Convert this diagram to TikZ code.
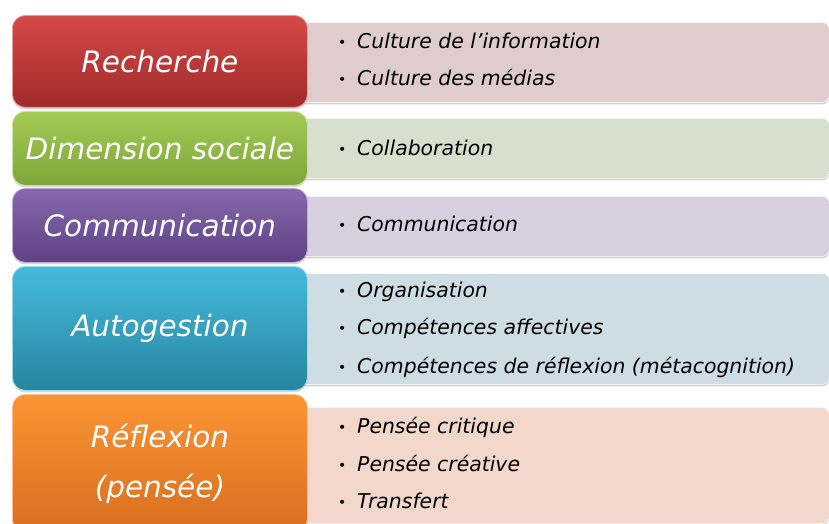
\documentclass[tikz,border=0pt]{standalone}
\usepackage{fontspec}
\setmainfont{DejaVu Sans}
\usetikzlibrary{shadows}

\definecolor{rougeH}{HTML}{D44A48}
\definecolor{rougeB}{HTML}{A02A2A}
\definecolor{rougeC}{HTML}{DFCCCC}
\definecolor{vertH}{HTML}{A4CA55}
\definecolor{vertB}{HTML}{7EA53A}
\definecolor{vertC}{HTML}{D7DFCD}
\definecolor{violetH}{HTML}{8768AE}
\definecolor{violetB}{HTML}{5E4284}
\definecolor{violetC}{HTML}{D5CFDE}
\definecolor{bleuH}{HTML}{45BADB}
\definecolor{bleuB}{HTML}{27869E}
\definecolor{bleuC}{HTML}{CDDDE3}
\definecolor{orangeH}{HTML}{FA9534}
\definecolor{orangeB}{HTML}{D86E1F}
\definecolor{orangeC}{HTML}{F2D7CA}

\newcommand{\puce}{\makebox[19pt][l]{\raisebox{1pt}{\fontsize{14}{14}\selectfont\textbullet}}}

\tikzset{
  categorie/.style={rounded corners=13pt, top color=#1H, bottom color=#1B, draw=#1H!55!white,
    line width=0.8pt, text=white, font=\fontsize{29.5}{50}\selectfont\itshape, align=center,
    anchor=north west, minimum width=295pt, inner sep=0pt,
    drop shadow={opacity=0.3, shadow xshift=0pt, shadow yshift=-2pt}},
  detail/.style={rounded corners=7pt, fill=#1C, draw=white, line width=0.6pt,
    anchor=north west, minimum width=533pt, inner sep=0pt,
    drop shadow={opacity=0.35, shadow xshift=0pt, shadow yshift=-2pt}},
  puceitem/.style={anchor=west, inner sep=0pt, text height=14pt, text depth=4pt,
    font=\fontsize{20.4}{24}\selectfont\itshape}
}

\begin{document}
\begin{tikzpicture}[x=1pt, y=-1pt]
    \fill[white] (0,0) rectangle (829,524);
    \useasboundingbox (0,0) rectangle (829,524);
    \foreach \n/\c/\t/\b/\u/\v/\lab in {rech/rouge/15/107/22/102/Recherche,
        soc/vert/111/185/118/178/Dimension sociale,
        com/violet/188/262/196/256/Communication,
        auto/bleu/266/390/273/384/Autogestion,
        refl/orange/394/532/407/523/{Réflexion\\(pensée)}}{
      \pgfmathsetmacro{\h}{\b-\t}
      \pgfmathsetmacro{\hh}{\v-\u}
      \node[detail=\c, minimum height=\hh pt] (d\n) at (296,\u) {};
      \node[categorie=\c, minimum height=\h pt] (c\n) at (12,\t) {\lab};
    }
    \foreach \n/\y/\txt in {r1/44/Culture de l’information, r2/81/Culture des médias,
        s1/150/Collaboration, c1/226/Communication,
        a1/292/Organisation, a2/329/Compétences affectives,
        a3/368/{Compétences de réflexion (métacognition)},
        f1/428/Pensée critique, f2/466/Pensée créative, f3/503/Transfert}{
      \node[puceitem] (i\n) at (338,\y) {\puce\txt};
    }
  \end{tikzpicture}
\end{document}
